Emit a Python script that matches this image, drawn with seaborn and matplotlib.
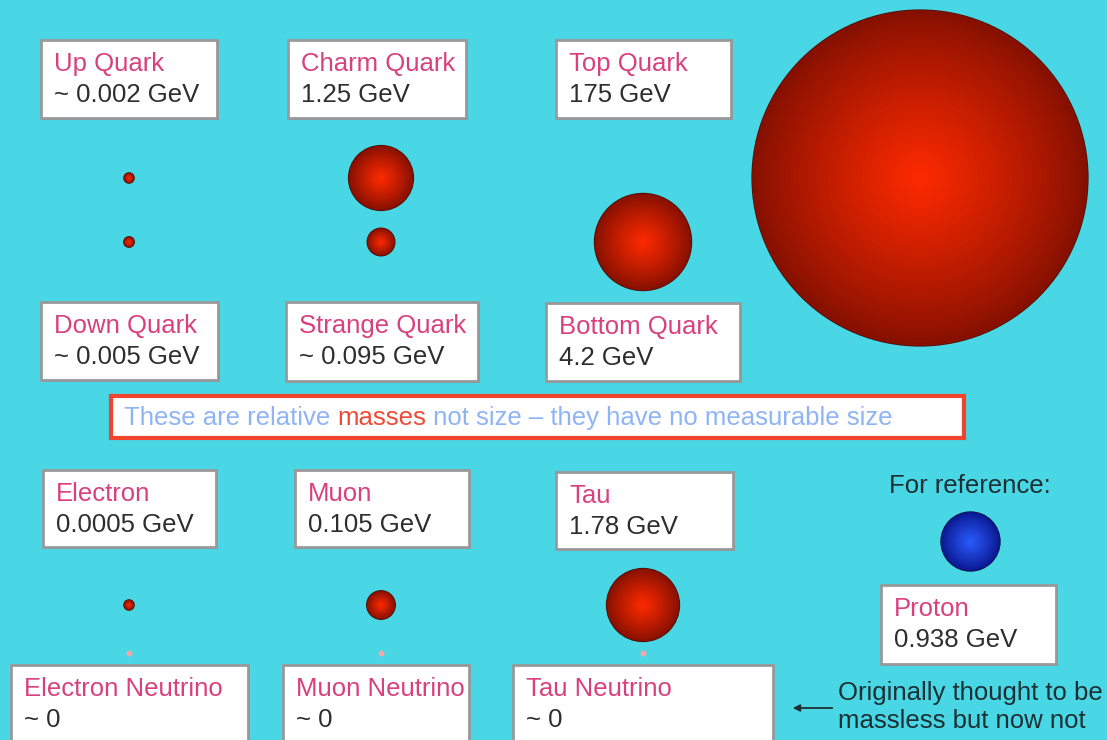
import numpy as np
import pandas as pd
import seaborn as sns
import matplotlib.pyplot as plt
from matplotlib.patches import Rectangle
from matplotlib.colors import to_rgb

# --- data ---
particles = ["Up Quark", "Down Quark", "Charm Quark", "Strange Quark", "Top Quark",
             "Bottom Quark", "Electron", "Muon", "Tau", "Proton"]
mass_gev = [0.002, 0.005, 1.25, 0.095, 175, 4.2, 0.0005, 0.105, 1.78, 0.938]
mass_labels = ["~ 0.002 GeV", "~ 0.005 GeV", "1.25 GeV", "~ 0.095 GeV", "175 GeV",
               "4.2 GeV", "0.0005 GeV", "0.105 GeV", "1.78 GeV", "0.938 GeV"]
neutrinos = ["Electron Neutrino", "Muon Neutrino", "Tau Neutrino"]
neutrino_labels = ["~ 0", "~ 0", "~ 0"]

# --- layout (pixels, y downwards) ---
sphere_xy = {
    "Up Quark": (129, 178), "Down Quark": (129, 242), "Charm Quark": (381, 178),
    "Strange Quark": (381, 242), "Top Quark": (920, 178), "Bottom Quark": (643, 242),
    "Electron": (129, 605), "Muon": (381, 605), "Tau": (643, 605), "Proton": (970, 541),
}
neutrino_xy = [(129, 653), (381, 653), (643, 653)]
boxes = {
    "Up Quark": (41, 40, 176, 78), "Charm Quark": (288, 40, 178, 78),
    "Top Quark": (556, 40, 175, 78), "Down Quark": (41, 302, 177, 78),
    "Strange Quark": (286, 302, 192, 79), "Bottom Quark": (546, 303, 194, 78),
    "Electron": (43, 470, 173, 77), "Muon": (295, 470, 174, 77),
    "Tau": (556, 472, 177, 77), "Proton": (881, 585, 175, 79),
    "Electron Neutrino": (11, 665, 237, 95), "Muon Neutrino": (283, 665, 186, 95),
    "Tau Neutrino": (513, 665, 260, 95),
}

BG = "#49d6e5"
PINK = "#d9407e"
DARK = "#2e2e2e"
FS = 18.5
DPI = 100

sns.set_theme(style="white")
plt.rcParams['font.family'] = ['Liberation Sans', 'DejaVu Sans']

fig = plt.figure(figsize=(11.07, 7.40), dpi=DPI, facecolor=BG)
ax = fig.add_axes([0, 0, 1, 1])
ax.set_facecolor(BG)
ax.set_xlim(0, 1107)
ax.set_ylim(740, 0)
ax.axis("off")

# sphere radius ~ cube root of mass (relative volume ~ mass)
df = pd.DataFrame({"particle": particles, "mass": mass_gev})
df["x"] = [sphere_xy[p][0] for p in particles]
df["y"] = [sphere_xy[p][1] for p in particles]
df["r"] = np.maximum(30 * np.cbrt(df["mass"]), 5)


def px_to_s(r):
    # scatter marker area (pt^2) for a circle of radius r pixels
    return (2 * r * 72 / DPI) ** 2


def shade(sub, edge, center, outline, n=40):
    e, c = np.array(to_rgb(edge)), np.array(to_rgb(center))
    sns.scatterplot(data=sub, x="x", y="y", s=px_to_s(sub["r"] + 0.8).tolist(),
                    color=outline, linewidth=0, ax=ax, legend=False, zorder=3)
    for i in range(n):
        f = 1 - i / n
        t = (1 - f) ** 0.9
        col = tuple(e + (c - e) * t)
        sns.scatterplot(data=sub, x="x", y="y", s=px_to_s(sub["r"] * f).tolist(),
                        color=col, linewidth=0, ax=ax, legend=False, zorder=4)


shade(df[df["particle"] != "Proton"], "#861000", "#ff2a00", "#4a1208")
shade(df[df["particle"] == "Proton"], "#0a1890", "#2a5cff", "#0a1040")

nu = pd.DataFrame({"x": [p[0] for p in neutrino_xy], "y": [p[1] for p in neutrino_xy]})
sns.scatterplot(data=nu, x="x", y="y", s=px_to_s(3), color="#f0a8a8",
                linewidth=0, ax=ax, legend=False, zorder=4)


def label_box(name, value):
    x0, y0, w, h = boxes[name]
    ax.add_patch(Rectangle((x0 + 2, y0 + 2), w, h, facecolor="#3aaab8", edgecolor="none", zorder=5))
    ax.add_patch(Rectangle((x0, y0), w, h, facecolor="white", edgecolor="#999999", lw=2, zorder=6))
    ax.text(x0 + 13, y0 + 24, name, color=PINK, fontsize=FS, va="center", ha="left", zorder=7)
    ax.text(x0 + 13, y0 + 55, value, color=DARK, fontsize=FS, va="center", ha="left", zorder=7)


for p, lab in zip(particles, mass_labels):
    label_box(p, lab)
for p, lab in zip(neutrinos, neutrino_labels):
    label_box(p, lab)

# notice box
ax.add_patch(Rectangle((111, 396), 853, 42, facecolor="white", edgecolor="#f0442c", lw=3, zorder=6))
fig.canvas.draw()
renderer = fig.canvas.get_renderer()
inv = ax.transData.inverted()
xpos = 124
for piece, col in [("These are relative ", "#8fb4f6"), ("masses", "#ef4a36"),
                   (" not size \u2013 they have no measurable size", "#8fb4f6")]:
    t = ax.text(xpos, 418, piece, color=col, fontsize=FS, va="center", ha="left", zorder=7)
    bb = t.get_window_extent(renderer)
    xpos = inv.transform((bb.x1, bb.y0))[0]

ax.text(970, 486, "For reference:", color="#1c2f33", fontsize=FS, ha="center", va="center")
ax.text(838, 707, "Originally thought to be\nmassless but now not", color="#1c2f33",
        fontsize=FS, ha="left", va="center", linespacing=1.22)
ax.annotate("", xy=(790, 708), xytext=(835, 708),
            arrowprops=dict(arrowstyle="-|>", color="#1c2f33", lw=1.3, mutation_scale=10))

fig.savefig("out.png", dpi=DPI, facecolor=BG)
